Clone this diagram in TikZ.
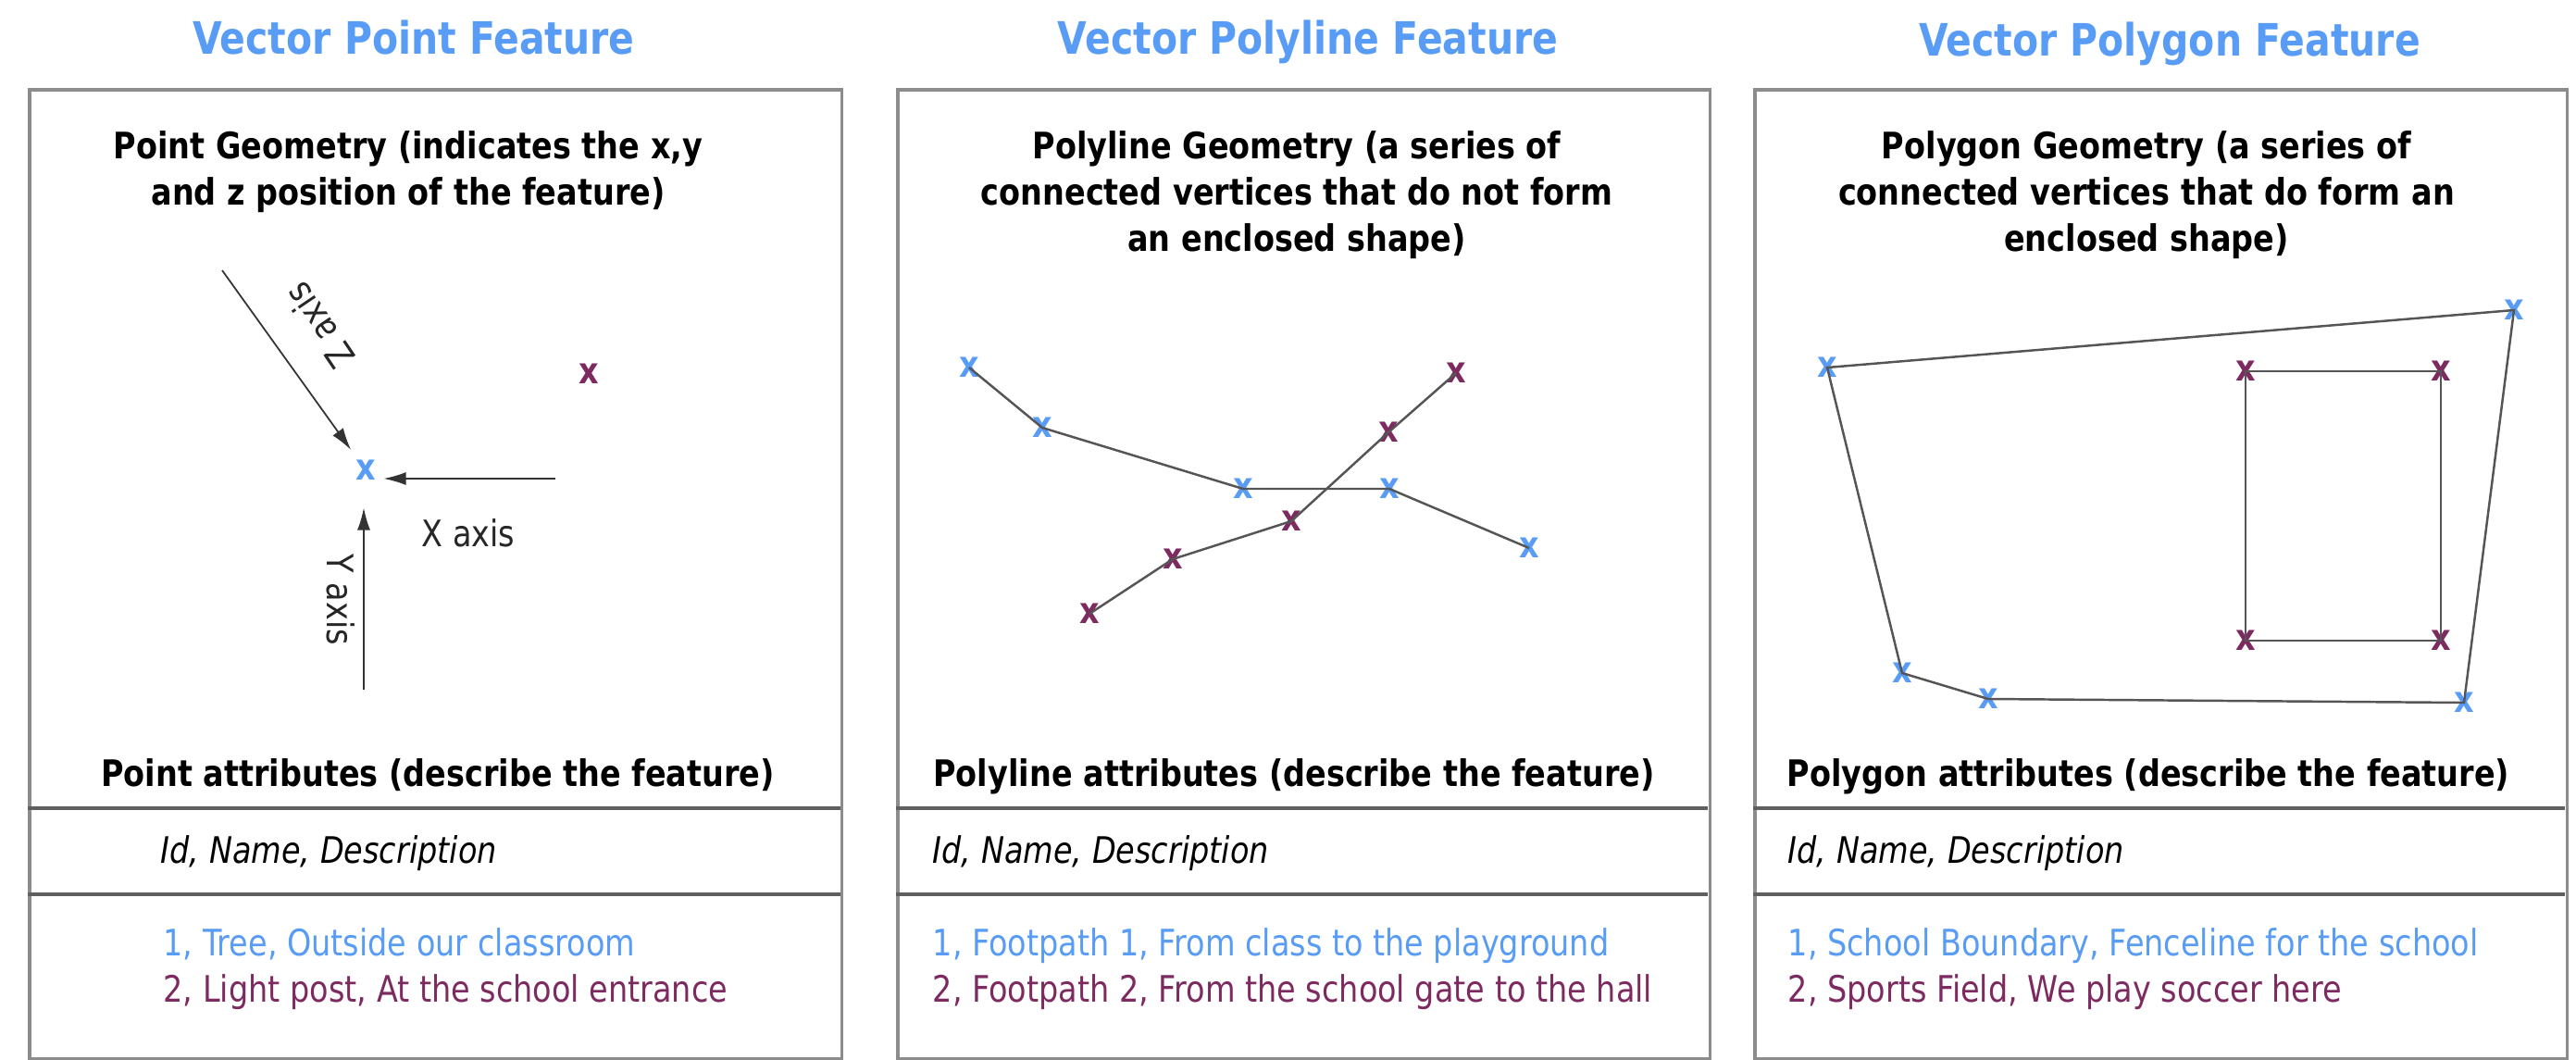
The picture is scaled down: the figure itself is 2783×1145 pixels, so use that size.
\documentclass[tikz,border=0pt]{standalone}
\usepackage{fontspec}
\setmainfont{DejaVu Sans}[FakeStretch=0.85]
\usetikzlibrary{arrows.meta}
\definecolor{fblue}{RGB}{88,156,245}
\definecolor{fpurp}{RGB}{125,42,96}
\definecolor{boxgray}{RGB}{140,140,140}
\definecolor{sepgray}{RGB}{95,95,95}
\definecolor{linegray}{RGB}{85,85,85}
\begin{document}
\begin{tikzpicture}[x=0.01cm,y=-0.01cm,
  panel/.style={draw=boxgray,line width=1.1pt,minimum width=8.77cm,minimum height=10.46cm,anchor=north west,inner sep=0},
  sepline/.style={draw=sepgray,line width=1pt},
  title/.style={font=\bfseries\fontsize{13.7}{16}\selectfont,text=fblue,inner sep=0,anchor=base},
  head/.style={font=\bfseries\fontsize{11.2}{14.2}\selectfont,align=center,inner sep=0,anchor=north},
  attrhead/.style={font=\bfseries\fontsize{11.2}{14.2}\selectfont,inner sep=0,anchor=base},
  body/.style={font=\fontsize{11.2}{14.2}\selectfont,inner sep=0,anchor=base west},
  fields/.style={body,font=\itshape\fontsize{11.2}{14.2}\selectfont},
  bx/.style={font=\bfseries\fontsize{11.2}{14}\selectfont,text=fblue,inner sep=0},
  px/.style={bx,text=fpurp},
  conn/.style={draw=linegray,line width=0.7pt},
  axisarrow/.style={draw=black!80,line width=0.5pt,-{Latex[length=0.24cm,width=0.14cm]}},
  axislabel/.style={font=\fontsize{11.2}{14}\selectfont,text=black!85,inner sep=0}
]
\useasboundingbox (0,0) rectangle (2783,1145);

% ---------- titles ----------
\node[title] (t1) at (447,58) {Vector Point Feature};
\node[title] (t2) at (1413,58) {Vector Polyline Feature};
\node[title] (t3) at (2344,60) {Vector Polygon Feature};

% ---------- panels ----------
\node[panel] (box1) at (30,95) {};
\node[panel] (box2) at (968,95) {};
\node[panel] (box3) at (1894,95) {};
\foreach \a/\b in {30/908,968/1845,1894/2771}{
  \draw[sepline] (\a,873) -- (\b,873);
  \draw[sepline] (\a,966) -- (\b,966);
}

% ---------- panel 1 ----------
\node[head] (h1) at (441,141) {Point Geometry (indicates the x,y\\and z position of the feature)};
\node[bx] (pt1) at (395,508) {x};
\node[px] (pt2) at (636,404) {x};
\coordinate (zs) at (240,292);
\coordinate (xs) at (600,517);
\coordinate (ys) at (393,745);
\draw[axisarrow,shorten >=0.13cm] (zs) -- (pt1);
\draw[axisarrow,shorten >=0.08cm] (xs) -- (xs -| pt1.east);
\draw[axisarrow,shorten >=0.29cm] (ys) -- (ys |- pt1.south);
\node[axislabel,rotate=124] (zl) at (345,352) {Z axis};
\node[axislabel] (xl) at (506,576) {X axis};
\node[axislabel,rotate=-90] (yl) at (368,648) {Y axis};
\node[attrhead] (a1) at (473,849) {Point attributes (describe the feature)};
\node[fields] (f1) at (173,932) {Id, Name, Description};
\node[body,text=fblue] (v11) at (176,1032) {1, Tree, Outside our classroom};
\node[body,text=fpurp] (v12) at (176,1082) {2, Light post, At the school entrance};

% ---------- panel 2 ----------
\node[head] (h2) at (1401,141) {Polyline Geometry (a series of\\connected vertices that do not form\\an enclosed shape)};
\node[bx] (b1) at (1047,397) {x};
\node[bx] (b2) at (1126,462) {x};
\node[bx] (b3) at (1343,528) {x};
\node[bx] (b4) at (1501,528) {x};
\node[bx] (b5) at (1652,592) {x};
\node[px] (p1) at (1177,663) {x};
\node[px] (p2) at (1267,604) {x};
\node[px] (p3) at (1395,563) {x};
\node[px] (p4) at (1500,467) {x};
\node[px] (p5) at (1573,403) {x};
\draw[conn] (b1.center) -- (b2.center) -- (b3.center) -- (b4.center) -- (b5.center);
\draw[conn] (p1.center) -- (p2.center) -- (p3.center) -- (p4.center) -- (p5.center);
\node[attrhead] (a2) at (1398,849) {Polyline attributes (describe the feature)};
\node[fields] (f2) at (1007,932) {Id, Name, Description};
\node[body,text=fblue] (v21) at (1007,1032) {1, Footpath 1, From class to the playground};
\node[body,text=fpurp] (v22) at (1007,1082) {2, Footpath 2, From the school gate to the hall};

% ---------- panel 3 ----------
\node[head] (h3) at (2319,141) {Polygon Geometry (a series of\\connected vertices that do form an\\enclosed shape)};
\node[bx] (q1) at (1974,397) {x};
\node[bx] (q2) at (2716,335) {x};
\node[bx] (q3) at (2662,759) {x};
\node[bx] (q4) at (2148,755) {x};
\node[bx] (q5) at (2055,727) {x};
\node[px] (r1) at (2426,401) {x};
\node[px] (r2) at (2637,401) {x};
\node[px] (r3) at (2637,692) {x};
\node[px] (r4) at (2426,692) {x};
\draw[conn] (q1.center) -- (q2.center) -- (q3.center) -- (q4.center) -- (q5.center) -- cycle;
\draw[conn] (r1.center) -- (r2.center) -- (r3.center) -- (r4.center) -- cycle;
\node[attrhead] (a3) at (2321,849) {Polygon attributes (describe the feature)};
\node[fields] (f3) at (1931,932) {Id, Name, Description};
\node[body,text=fblue] (v31) at (1931,1032) {1, School Boundary, Fenceline for the school};
\node[body,text=fpurp] (v32) at (1931,1082) {2, Sports Field, We play soccer here};
\end{tikzpicture}
\end{document}
